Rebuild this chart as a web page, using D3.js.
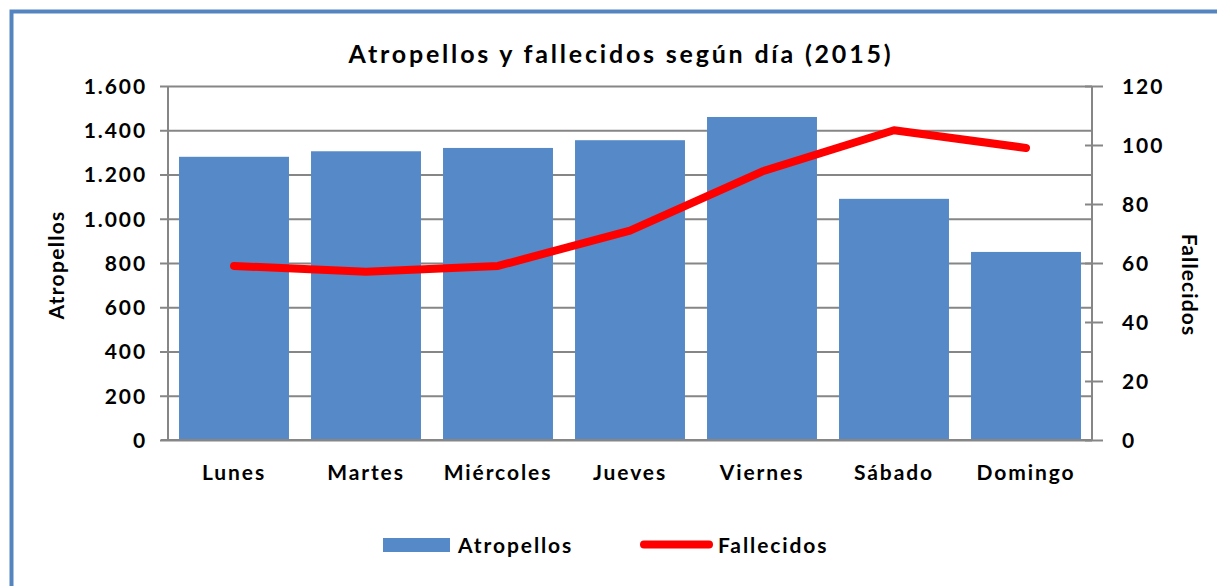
<!DOCTYPE html>
<html>
<head>
<meta charset="utf-8">
<script src="https://cdn.jsdelivr.net/npm/d3@7/dist/d3.min.js"></script>
<style>
  html, body { margin: 0; padding: 0; background: #fff; }
  svg { display: block; }
  text { font-family: Lato, "Open Sans", sans-serif; font-weight: bold; fill: #000; }
</style>
</head>
<body>
<svg id="chart" width="1217" height="586"></svg>
<script>
const categories = ["Lunes", "Martes", "Miércoles", "Jueves", "Viernes", "Sábado", "Domingo"];
const atropellos = [1280, 1305, 1320, 1355, 1460, 1090, 850];
const fallecidos = [59, 57, 59, 71, 91, 105, 99];
const leftTicks = [0, 200, 400, 600, 800, 1000, 1200, 1400, 1600];
const rightTicks = [0, 20, 40, 60, 80, 100, 120];
const title = "Atropellos y fallecidos según día (2015)";
const leftTitle = "Atropellos";
const rightTitle = "Fallecidos";

const svg = d3.select("#chart");
const W = 1217, H = 586;
const plot = { left: 168, right: 1092, top: 86, bottom: 440 };
const gridColor = "#868686";
const barColor = "#5589c7";
const lineColor = "#ff0000";
const FS = 21, LS = 1.9;

// outer border
svg.append("rect")
  .attr("x", 11.5).attr("y", 11.5)
  .attr("width", W + 20).attr("height", H + 20)
  .attr("fill", "none").attr("stroke", "#5585c0").attr("stroke-width", 4);

const x = d3.scaleBand().domain(categories)
  .range([plot.left, plot.right]).paddingInner(0.167).paddingOuter(0.0835);
const yL = d3.scaleLinear().domain([0, 1600]).range([plot.bottom, plot.top]);
const yR = d3.scaleLinear().domain([0, 120]).range([plot.bottom, plot.top]);

const fmt = d => d3.format(",")(d).replace(/,/g, ".");

// gridlines (left axis)
const gL = svg.append("g").attr("transform", `translate(${plot.left},0)`)
  .call(d3.axisLeft(yL).tickValues(leftTicks).tickFormat(fmt)
    .tickSize(-(plot.right - plot.left)).tickPadding(0));
gL.select(".domain").remove();
gL.selectAll(".tick line").attr("stroke", gridColor).attr("stroke-width", 2)
  .attr("x1", -8);
gL.selectAll(".tick text").attr("x", -21).attr("font-size", FS)
  .attr("letter-spacing", LS).attr("dy", "0.35em")
  .style("font-family", "Lato, sans-serif").style("font-weight", "bold");

// bars
svg.append("g").selectAll("rect").data(categories).join("rect")
  .attr("x", d => x(d))
  .attr("y", (d, i) => yL(atropellos[i]))
  .attr("width", x.bandwidth())
  .attr("height", (d, i) => plot.bottom - yL(atropellos[i]))
  .attr("fill", barColor);

// left axis line
svg.append("line").attr("x1", plot.left).attr("x2", plot.left)
  .attr("y1", plot.top).attr("y2", plot.bottom)
  .attr("stroke", gridColor).attr("stroke-width", 2);

// x axis
const gX = svg.append("g").attr("transform", `translate(0,${plot.bottom})`)
  .call(d3.axisBottom(x).tickSize(0).tickPadding(0));
gX.select(".domain").remove();
gX.selectAll(".tick text").attr("y", 40).attr("dy", 0).attr("font-size", FS)
  .attr("letter-spacing", LS)
  .style("font-family", "Lato, sans-serif").style("font-weight", "bold");
svg.append("line").attr("x1", plot.left - 7).attr("x2", plot.right)
  .attr("y1", plot.bottom).attr("y2", plot.bottom)
  .attr("stroke", gridColor).attr("stroke-width", 2);

// right axis
const gR = svg.append("g").attr("transform", `translate(${plot.right},0)`)
  .call(d3.axisRight(yR).tickValues(rightTicks).tickSize(11).tickPadding(0));
gR.select(".domain").attr("stroke", gridColor).attr("stroke-width", 2)
  .attr("d", `M0,${plot.top}V${plot.bottom}`);
gR.selectAll(".tick line").attr("stroke", gridColor).attr("stroke-width", 2)
  .attr("x1", -7).attr("x2", 11);
gR.selectAll(".tick text").attr("x", 30).attr("font-size", FS)
  .attr("letter-spacing", LS).attr("dy", "0.35em")
  .style("font-family", "Lato, sans-serif").style("font-weight", "bold");

// line
const line = d3.line()
  .x((d, i) => x(categories[i]) + x.bandwidth() / 2)
  .y(d => yR(d));
svg.append("path").datum(fallecidos)
  .attr("d", line).attr("fill", "none")
  .attr("stroke", lineColor).attr("stroke-width", 8)
  .attr("stroke-linecap", "round").attr("stroke-linejoin", "round");

// title
svg.append("text").attr("x", 621).attr("y", 63).attr("text-anchor", "middle")
  .attr("font-size", 25).attr("letter-spacing", 2.8).text(title);

// axis titles
svg.append("text").attr("transform", "translate(64,265) rotate(-90)")
  .attr("text-anchor", "middle").attr("font-size", FS).attr("letter-spacing", 1.3)
  .text(leftTitle);
svg.append("text").attr("transform", "translate(1182,285) rotate(90)")
  .attr("text-anchor", "middle").attr("font-size", FS).attr("letter-spacing", 1.1)
  .text(rightTitle);

// legend
const lg = svg.append("g");
lg.append("rect").attr("x", 383).attr("y", 538).attr("width", 67).attr("height", 14)
  .attr("fill", barColor);
lg.append("text").attr("x", 458).attr("y", 553).attr("font-size", FS)
  .attr("letter-spacing", LS).text(leftTitle);
lg.append("line").attr("x1", 644).attr("x2", 709).attr("y1", 544.5).attr("y2", 544.5)
  .attr("stroke", lineColor).attr("stroke-width", 8).attr("stroke-linecap", "round");
lg.append("text").attr("x", 718).attr("y", 553).attr("font-size", FS)
  .attr("letter-spacing", LS).text(rightTitle);
</script>
</body>
</html>
